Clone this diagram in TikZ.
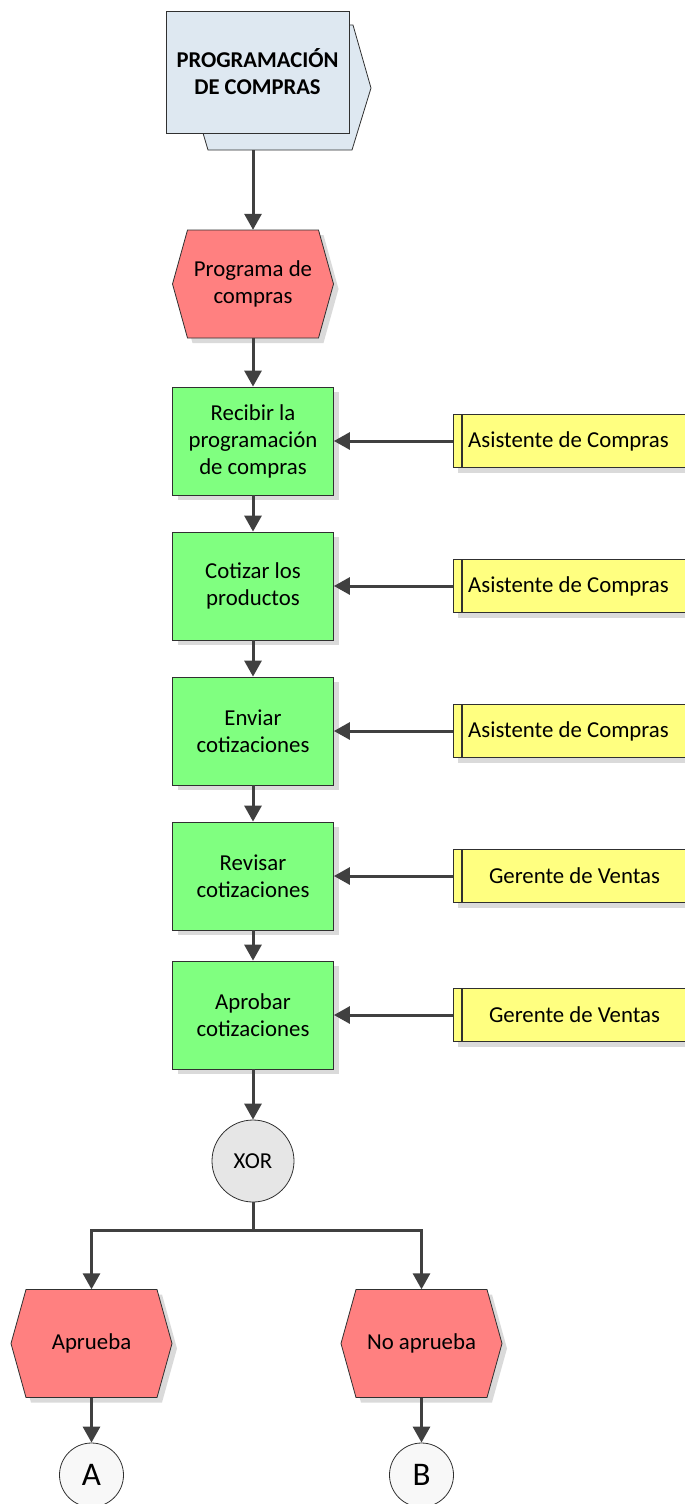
\documentclass[tikz,border=0pt]{standalone}
\usepackage{fontspec}
\setmainfont{Carlito}
\usetikzlibrary{arrows.meta,shadows}

\definecolor{linec}{HTML}{404040}
\definecolor{edgec}{HTML}{303030}
\definecolor{procblue}{HTML}{DEE8F1}
\definecolor{evtred}{HTML}{FF8080}
\definecolor{fngreen}{HTML}{80FF80}
\definecolor{roleyel}{HTML}{FFFF80}
\definecolor{xorgray}{HTML}{E6E6E6}
\definecolor{refwhite}{HTML}{F8F8F8}
\definecolor{shadec}{HTML}{DADADA}

\tikzset{
  txt/.style={font=\fontsize{22.8}{27}\selectfont, align=center},
  flow/.style={draw=linec, line width=3pt, -{Triangle[width=17pt,length=16pt]}},
  plain/.style={draw=linec, line width=3pt},
  boxshadow/.style={drop shadow={shadow xshift=5pt, shadow yshift=-5pt, fill=shadec, opacity=1}},
  fnbox/.style={txt, rectangle, draw=edgec, line width=0.8pt, fill=fngreen,
    minimum width=161pt, minimum height=108pt, inner sep=0pt, boxshadow},
  rolebox/.style={txt, rectangle, draw=edgec, line width=0.8pt, fill=roleyel,
    minimum width=233pt, minimum height=53pt, inner sep=0pt, boxshadow},
  evtshape/.style={draw=edgec, line width=0.8pt, fill=evtred},
  evtlabel/.style={txt, rectangle, minimum width=161pt, minimum height=108pt, inner sep=0pt},
  connector/.style={txt, circle, draw=edgec, line width=0.8pt, inner sep=0pt},
}

% hexagonal event: name, centre x, centre y, text
\newcommand\evshape[4]{%
  \begin{scope}[shift={(#2,#3)}]
    \fill[shadec] (-65.5+5,-54+5) -- (65.5+5,-54+5) -- (80.5+5,5) -- (65.5+5,54+5)
      -- (-65.5+5,54+5) -- (-80.5+5,5) -- cycle;
    \path[evtshape] (-65.5,-54) -- (65.5,-54) -- (80.5,0) -- (65.5,54)
      -- (-65.5,54) -- (-80.5,0) -- cycle;
    \node[evtlabel] (#1) at (0,0) {#4};
  \end{scope}}

% role box with its doubled left edge: name, centre y, text offset, text
\newcommand\rolenode[4]{%
  \node[rolebox] (#1) at (569.5,#2) {\hspace*{#3}#4};
  \draw[edgec, line width=2pt] ([xshift=9pt]#1.north west) -- ([xshift=9pt]#1.south west);}

\begin{document}
\begin{tikzpicture}[x=1pt, y=-1pt]
\useasboundingbox (0,0) rectangle (685,1504);

% process interface: back arrow shape and front sheet
\path[draw=edgec, line width=0.8pt, fill=procblue]
  (349,25) -- (353,25) -- (371,88) -- (352,150) -- (208,150) -- (203,133) -- cycle;
\node[txt, font=\fontsize{22.6}{27}\selectfont\bfseries, rectangle, draw=edgec, line width=0.8pt,
  fill=procblue, minimum width=183pt, minimum height=122pt, inner sep=0pt]
  (prog) at (257.5,72) {PROGRAMACIÓN\\DE COMPRAS};
\coordinate (progout) at (253,150);

% events
\evshape{ev0}{253}{284}{Programa de\\compras}

% functions
\node[fnbox] (f1) at (253,441) {Recibir la\\programación\\de compras};
\node[fnbox] (f2) at (253,586) {Cotizar los\\productos};
\node[fnbox] (f3) at (253,731) {Enviar\\cotizaciones};
\node[fnbox] (f4) at (253,876) {Revisar\\cotizaciones};
\node[fnbox] (f5) at (253,1015) {Aprobar\\cotizaciones};

% roles
\rolenode{r1}{441}{-2pt}{Asistente de Compras}
\rolenode{r2}{586}{-2pt}{Asistente de Compras}
\rolenode{r3}{731}{-2pt}{Asistente de Compras}
\rolenode{r4}{876}{10pt}{Gerente de Ventas}
\rolenode{r5}{1015}{10pt}{Gerente de Ventas}

% operator
\node[connector, fill=xorgray, minimum size=82pt] (xor) at (253,1161) {XOR};

% outcome events
\evshape{ev1}{91.5}{1343.5}{Aprueba}
\evshape{ev2}{421.5}{1343.5}{No aprueba}

% off-page connectors
\node[connector, fill=refwhite, minimum size=64pt, font=\fontsize{33}{33}\selectfont] (ca) at (91.5,1475) {A};
\node[connector, fill=refwhite, minimum size=64pt, font=\fontsize{33}{33}\selectfont] (cb) at (421.5,1475) {B};

% control flow
\draw[flow] (progout) -- (ev0.north);
\draw[flow] (ev0.south) -- (f1.north);
\draw[flow] (f1.south) -- (f2.north);
\draw[flow] (f2.south) -- (f3.north);
\draw[flow] (f3.south) -- (f4.north);
\draw[flow] (f4.south) -- (f5.north);
\draw[flow] (f5.south) -- (xor.north);
\coordinate (split) at (253,1230);
\draw[plain] (xor.south) -- (split);
\draw[flow] (split) -| (ev1.north);
\draw[flow] (split) -| (ev2.north);
\draw[flow] (ev1.south) -- (ca.north);
\draw[flow] (ev2.south) -- (cb.north);

% role assignments
\foreach \i in {1,...,5} \draw[flow] (r\i.west) -- (f\i.east);
\end{tikzpicture}
\end{document}
